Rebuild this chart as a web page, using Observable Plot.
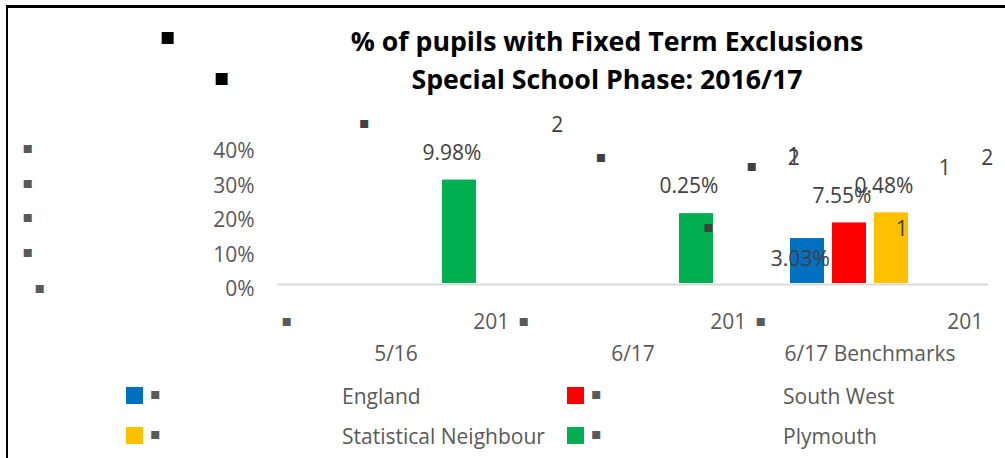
<!DOCTYPE html>
<html>
<head>
<meta charset="utf-8">
<script src="https://cdn.jsdelivr.net/npm/d3@7"></script>
<script src="https://cdn.jsdelivr.net/npm/@observablehq/plot@0.6"></script>
<style>
html, body { margin: 0; padding: 0; background: #fff; }
#page { position: relative; width: 1005px; height: 458px; overflow: hidden; background: #fff; font-family: "Open Sans", sans-serif; }
#frameTop { position: absolute; left: 6px; top: 5px; width: 999px; height: 3px; background: #000; }
#frameLeft { position: absolute; left: 6px; top: 5px; width: 2px; height: 453px; background: #000; }
.tline { position: absolute; left: 104.5px; width: 1005px; text-align: center; font-weight: 700; font-size: 26.7px; line-height: 28px; color: #000; white-space: nowrap; }
.tbullet { position: absolute; font-family: "DejaVu Sans", sans-serif; font-weight: 700; font-size: 24px; line-height: 28px; color: #000; transform: translateX(-50%); }
#chart { position: absolute; left: 0; top: 105px; }
#legend { position: absolute; left: 0; top: 370px; width: 1005px; height: 88px; }
.sw { position: absolute; width: 17px; height: 17px; }
.lb { position: absolute; font-family: "DejaVu Sans", sans-serif; font-size: 16px; line-height: 16px; color: #595959; transform: translate(-50%, -50%); }
.lt { position: absolute; font-size: 21px; line-height: 21px; color: #595959; transform: translateY(-50%); white-space: nowrap; }
</style>
</head>
<body>
<div id="page">
  <div id="title"></div>
  <div id="chart"></div>
  <div id="legend"></div>
  <div id="frameTop"></div>
  <div id="frameLeft"></div>
</div>
<script>
// ---------------- data ----------------
const titleLines = ["% of pupils with Fixed Term Exclusions", "Special School Phase: 2016/17"];
const categories = ["2015/16", "2016/17", "2016/17 Benchmarks"];
const series = ["England", "South West", "Statistical Neighbour", "Plymouth"];
const seriesColors = ["#0070C0", "#FF0000", "#FFC000", "#00B050"];
const barCategory = ["2015/16", "2016/17", "2016/17 Benchmarks", "2016/17 Benchmarks", "2016/17 Benchmarks"];
const barSeries = ["Plymouth", "Plymouth", "England", "South West", "Statistical Neighbour"];
const barValue = [29.98, 20.25, 13.03, 17.55, 20.48];
const yTicks = [0, 10, 20, 30, 40];
// stray glyphs as they appear in the picture (displaced label characters and bullets)
const strayText = ["▪", "2", "▪", "▪", "▪", "1", "2", "1", "1", "2"];
const strayCategory = ["2015/16", "2016/17", "2016/17", "2016/17", "2016/17 Benchmarks", "2016/17 Benchmarks", "2016/17 Benchmarks", "2016/17 Benchmarks", "2016/17 Benchmarks", "2016/17 Benchmarks"];

// ---------------- layout (offsets in px from each facet's top-left) ----------------
const strayOffset = [[87, -23], [42.7, -20.5], [86.7, 11.5], [194.2, 81.5], [0.3, 20], [42.3, 11], [42.3, 13], [150.3, 83.5], [193.3, 22.5], [235.8, 12.5]];

const bars = barValue.map((v, i) => ({
  category: barCategory[i],
  series: barSeries[i],
  value: v,
  label: v.toFixed(2).slice(1) + "%"   // leading digit is displaced in the picture
}));

// ---------------- title ----------------
const title = document.getElementById("title");
const titleTops = [27, 65];
const titleBulletTops = [21.5, 63];
const titleBulletX = [167.7, 221.7];
titleLines.forEach((t, i) => {
  const d = document.createElement("div");
  d.className = "tline";
  d.style.top = titleTops[i] + "px";
  d.textContent = t;
  title.appendChild(d);
  const b = document.createElement("div");
  b.className = "tbullet";
  b.style.top = titleBulletTops[i] + "px";
  b.style.left = titleBulletX[i] + "px";
  b.textContent = "▪";
  title.appendChild(b);
});

// ---------------- chart ----------------
const FS = 21;
const txt = {fill: "#404040", fontSize: FS, fontFamily: "'Open Sans', sans-serif", lineAnchor: "middle"};
const bul = {fill: "#404040", fontSize: 16, fontFamily: "'DejaVu Sans', sans-serif", lineAnchor: "middle", textAnchor: "middle", text: () => "▪"};

const strayMarks = strayText.map((t, i) => Plot.text([strayCategory[i]], {
  ...(t === "▪" ? bul : txt),
  fx: d => d,
  frameAnchor: "top-left",
  textAnchor: "middle",
  dx: strayOffset[i][0],
  dy: strayOffset[i][1],
  text: () => t
}));

const chart = Plot.plot({
  width: 1005,
  height: 265,
  marginLeft: 276,
  marginRight: 17,
  marginTop: 40,
  marginBottom: 87,
  style: {fontFamily: "'Open Sans', sans-serif", fontSize: "21px", background: "transparent", overflow: "visible"},
  fx: {domain: categories, padding: 0, axis: null, label: null},
  x: {domain: series, paddingInner: 0.193, paddingOuter: 0.856, axis: null, label: null},
  y: {domain: [0, 40], axis: null, label: null},
  color: {domain: series, range: seriesColors},
  marks: [
    Plot.ruleY([0], {stroke: "#d9d9d9", strokeWidth: 2, dy: 1}),
    Plot.barY(bars, {fx: "category", x: "series", y: "value", fill: "series"}),
    // data labels
    Plot.text(bars.filter(d => d.series !== "England"), {...txt, fx: "category", x: "series", y: "value", text: "label", textAnchor: "middle", dx: -7.5, dy: -27}),
    Plot.text(bars.filter(d => d.series === "England"), {...txt, fx: "category", x: "series", y: "value", text: "label", textAnchor: "middle", dx: -7.2, dy: 20.5}),
    // y tick labels
    Plot.text(yTicks, {...txt, fill: "#595959", fx: () => categories[0], y: d => d, frameAnchor: "left", textAnchor: "end", dx: -23, dy: 5.8, text: d => d + "%"}),
    Plot.text(yTicks.filter(d => d > 0), {...bul, fill: "#595959", fx: () => categories[0], y: d => d, frameAnchor: "left", dx: -249.7, dy: 2.5}),
    Plot.text(yTicks.filter(d => d === 0), {...bul, fill: "#595959", fx: () => categories[0], y: d => d, frameAnchor: "left", dx: -237.7, dy: 4}),
    // category labels (split across two lines as in the picture)
    Plot.text(categories, {...bul, fill: "#595959", fx: d => d, frameAnchor: "bottom-left", dx: 9.5, dy: 37.3}),
    Plot.text(categories, {...txt, fill: "#595959", fx: d => d, frameAnchor: "bottom-right", textAnchor: "end", dx: -5.3, dy: 38.5, text: d => d.slice(0, 3)}),
    Plot.text(categories, {...txt, fill: "#595959", fx: d => d, frameAnchor: "bottom", textAnchor: "middle", dy: 70.7, text: d => d.slice(3)}),
    ...strayMarks
  ]
});
document.getElementById("chart").appendChild(chart);

// ---------------- legend ----------------
const legend = document.getElementById("legend");
const colX = [126, 567];
const labelX = [342, 783];
const rowY = [25.5, 65.5];
series.forEach((s, i) => {
  const r = Math.floor(i / 2), c = i % 2;
  const sw = document.createElement("div");
  sw.className = "sw";
  sw.style.left = colX[c] + "px";
  sw.style.top = (rowY[r] - 8.5) + "px";
  sw.style.background = seriesColors[i];
  legend.appendChild(sw);
  const b = document.createElement("div");
  b.className = "lb";
  b.style.left = (colX[c] + 29.5) + "px";
  b.style.top = (rowY[r] - 1.5) + "px";
  b.textContent = "▪";
  legend.appendChild(b);
  const t = document.createElement("div");
  t.className = "lt";
  t.style.left = labelX[c] + "px";
  t.style.top = rowY[r] + "px";
  t.textContent = s;
  legend.appendChild(t);
});
</script>
</body>
</html>
